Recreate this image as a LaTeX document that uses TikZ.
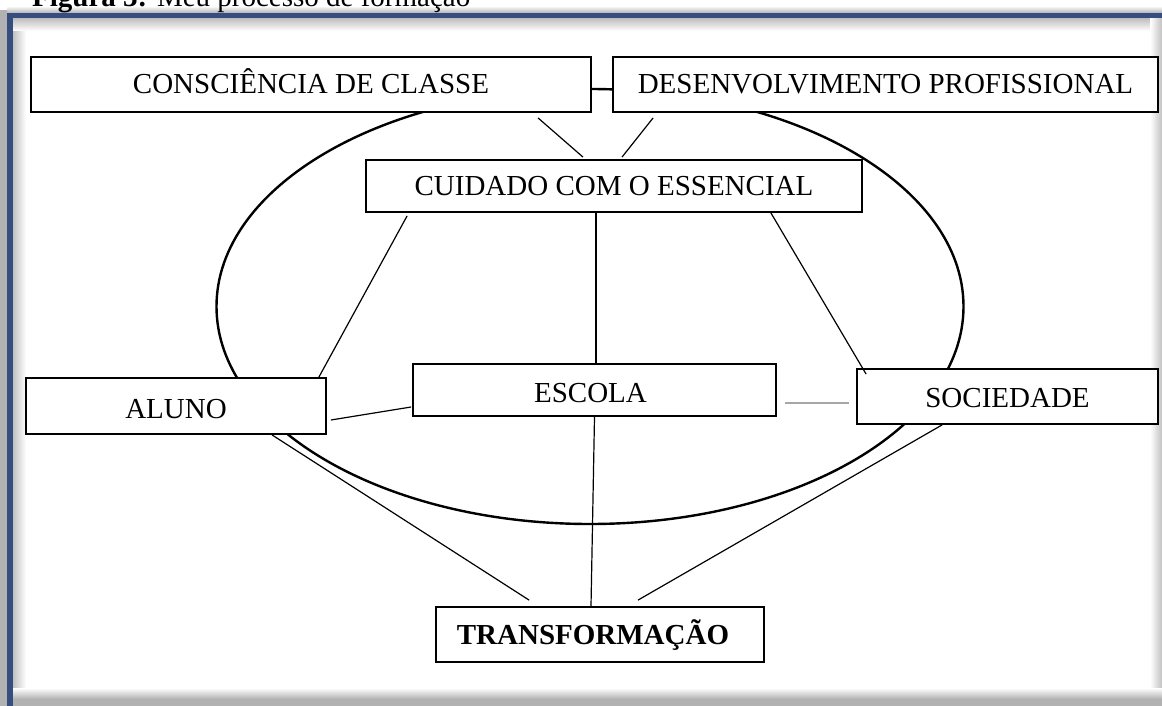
\documentclass[tikz,border=0pt]{standalone}
\usepackage{fontspec}
\setmainfont{Liberation Serif}
\usetikzlibrary{positioning,calc,shapes.geometric}
\definecolor{moldura}{RGB}{54,77,128}
\definecolor{sombra}{RGB}{178,178,178}
\definecolor{tinta}{RGB}{0,0,0}
\tikzset{
  caixa/.style={draw=tinta, line width=1.8pt, fill=white, align=center, inner sep=0pt,
                text height=23pt, text depth=4pt,
                font=\fontsize{29}{34}\selectfont, text=tinta},
  ligacao/.style={draw=tinta, line width=1.2pt},
  cinza/.style={draw=gray!70, line width=1.8pt},
  titulo/.style={font=\fontsize{29}{34}\selectfont, inner sep=0pt, text=tinta},
}

\begin{document}
\begin{tikzpicture}[x=1pt, y=-1pt]
  \useasboundingbox (0,0) rectangle (1162,706);

  % moldura com sombra
  \fill[sombra] (0,10) rectangle (7,706);
  \shade[top color=white, bottom color=sombra] (7,6) rectangle (1162,13);
  \fill[moldura] (7,13) rectangle (1162,706);
  \fill[white] (13,19) rectangle (1162,706);
  \shade[left color=sombra!80, right color=white] (13,19) rectangle (26,706);
  \shade[top color=sombra!80, bottom color=white] (13,19) rectangle (1162,31);
  \shade[left color=white, right color=sombra!80] (1150,19) rectangle (1162,706);
  \shade[top color=white, bottom color=sombra] (13,688) rectangle (1162,699);
  \fill[sombra] (13,699) rectangle (1162,706);

  \node[titulo, anchor=base west] (fig) at (32,7) {\textbf{Figura 3:} Meu processo de formação};

  \node[draw=tinta, line width=2.4pt, ellipse, minimum width=747pt, minimum height=435pt,
        inner sep=0pt] (ciclo) at (590,306.5) {};

  \node[caixa, minimum width=560pt, minimum height=55pt] (consc) at (311,84.5)
    {CONSCIÊNCIA DE CLASSE};
  \node[caixa, minimum width=545pt, minimum height=55pt] (desenv) at (885.5,84.5)
    {DESENVOLVIMENTO PROFISSIONAL};
  \node[caixa, minimum width=496pt, minimum height=52pt] (cuidado) at (614,186)
    {CUIDADO COM O ESSENCIAL};
  \node[caixa, minimum width=300pt, minimum height=56pt] (aluno) at (176,406)
    {\raisebox{-3pt}{ALUNO}};
  \node[caixa, minimum width=363pt, minimum height=52pt] (escola) at (594.5,390)
    {\raisebox{-3pt}{\hspace*{-8pt}ESCOLA}};
  \node[caixa, minimum width=301pt, minimum height=55pt] (sociedade) at (1007.5,396.5)
    {\raisebox{-1pt}{SOCIEDADE}};
  \node[caixa, minimum width=328pt, minimum height=55pt] (transf) at (600,634.5)
    {\hspace*{-14pt}\textbf{TRANSFORMAÇÃO}};

  \draw[ligacao] ([xshift=227pt,yshift=-5pt]consc.south) -- ([xshift=-31pt,yshift=2pt]cuidado.north);
  \draw[ligacao] ([xshift=41pt,yshift=-5pt]desenv.south west) -- ([xshift=8pt,yshift=2pt]cuidado.north);

  \draw[ligacao] ([xshift=42pt,yshift=-3pt]cuidado.south west) -- ([xshift=-8pt]aluno.north east);
  \draw[ligacao] ([xshift=-18pt]cuidado.south) -- ([xshift=1.5pt]escola.north);
  \draw[ligacao] ([xshift=-92pt]cuidado.south east) -- ([xshift=10pt,yshift=-6pt]sociedade.north west);

  \draw[ligacao] ([xshift=4pt,yshift=-14pt]aluno.east) -- ([xshift=-1pt,yshift=-17pt]escola.west);
  \draw[cinza] ([xshift=8pt,yshift=-13pt]escola.east) -- ([xshift=-7pt,yshift=-6.5pt]sociedade.west);

  \draw[ligacao] ([xshift=96pt]aluno.south) -- ([xshift=94pt,yshift=6pt]transf.north west);
  \draw[ligacao] (escola.south) -- ([xshift=-9pt]transf.north);
  \draw[ligacao] ([xshift=86pt]sociedade.south west) -- ([xshift=38pt,yshift=6pt]transf.north);
\end{tikzpicture}
\end{document}
